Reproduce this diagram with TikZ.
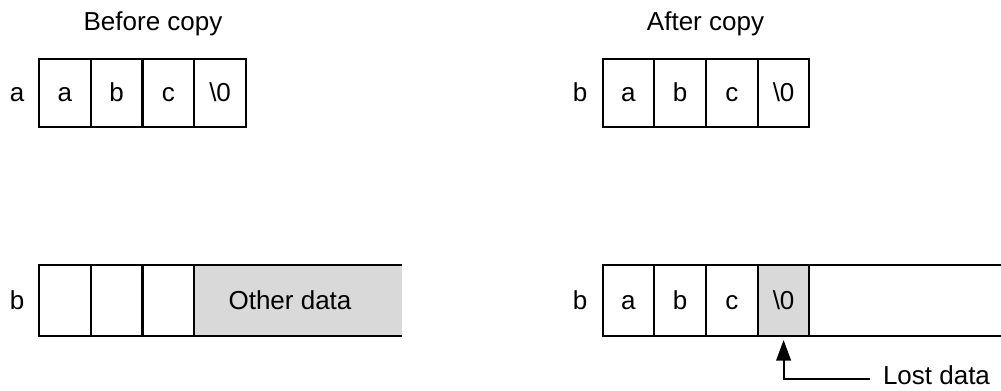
\documentclass[tikz,border=0pt]{standalone}
\usepackage{fontspec}
\setmainfont{Liberation Sans}
\usetikzlibrary{arrows.meta}
\definecolor{lostgrey}{HTML}{D9D9D9}
\begin{document}
\begin{tikzpicture}[x=0.75pt,y=-0.75pt,
  txt/.style={font=\fontsize{19.5pt}{23pt}\selectfont, inner sep=0pt, outer sep=0pt},
  celltxt/.style={txt, text height=13pt, text depth=0pt},
  cellbox/.style={celltxt, draw, line width=1.5pt, minimum width=38.8pt},
  topcell/.style={cellbox, minimum height=51pt},
  botcell/.style={cellbox, minimum height=53.25pt},
  edge/.style={line width=1.5pt},
  arrowline/.style={line width=1.5pt, -{Triangle[length=15.5pt,width=11pt]}}]
\useasboundingbox (0,0) rectangle (1001,390);
% titles
\node[txt, anchor=base] (t1) at (153,30) {Before copy};
\node[txt, anchor=base] (t2) at (705.5,30) {After copy};
% top left
\node[celltxt] (la) at (17,93) {a};
\node[topcell] (a1) at (64.9,93) {a};
\node[topcell] (a2) at (116.6,93) {b};
\node[topcell] (a3) at (168.4,93) {c};
\node[topcell] (a4) at (220.1,93) {\textbackslash 0};
% top right
\node[celltxt] (lb1) at (580,93) {b};
\node[topcell] (b1) at (628.4,93) {a};
\node[topcell] (b2) at (680.1,93) {b};
\node[topcell] (b3) at (731.9,93) {c};
\node[topcell] (b4) at (783.6,93) {\textbackslash 0};
% bottom left
\fill[lostgrey] (194.2,265) rectangle (402,336);
\node[celltxt] (lb2) at (17,300.5) {b};
\node[botcell] (c1) at (64.9,300.5) {};
\node[botcell] (c2) at (116.6,300.5) {};
\node[botcell] (c3) at (168.4,300.5) {};
\node[celltxt] (other) at (290,300.5) {Other data};
\coordinate (cend1) at (402,265);
\coordinate (cend2) at (402,336);
\draw[edge] (c3.north east) -- (cend1);
\draw[edge] (c3.south east) -- (cend2);
% bottom right
\node[celltxt] (lb3) at (580,300.5) {b};
\node[botcell] (d1) at (628.4,300.5) {a};
\node[botcell] (d2) at (680.1,300.5) {b};
\node[botcell] (d3) at (731.9,300.5) {c};
\node[botcell, fill=lostgrey] (d4) at (783.6,300.5) {\textbackslash 0};
\coordinate (dend1) at (1001,265);
\coordinate (dend2) at (1001,336);
\draw[edge] (d4.north east) -- (dend1);
\draw[edge] (d4.south east) -- (dend2);
% lost data
\node[txt, anchor=base west] (lost) at (883,384) {Lost data};
\coordinate (lostc) at (870,379);
\draw[arrowline] (lostc) -| ([yshift=-3pt]d4.south);
\end{tikzpicture}
\end{document}
